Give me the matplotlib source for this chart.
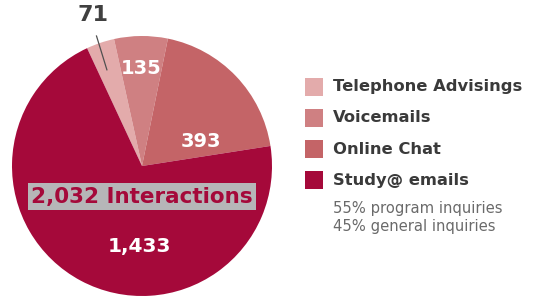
import matplotlib
matplotlib.use("Agg")
import matplotlib.pyplot as plt
from matplotlib.patches import Rectangle

categories = ["Telephone Advisings", "Voicemails", "Online Chat", "Study@ emails"]
values = [71, 135, 393, 1433]
value_labels = ["71", "135", "393", "1,433"]
total_label = "2,032 Interactions"
notes = ["55% program inquiries", "45% general inquiries"]
colors = ["#e3abab", "#cf8082", "#c46467", "#a5093a"]

W, H = 536, 297
fig = plt.figure(figsize=(W / 100, H / 100), dpi=100)
fig.patch.set_facecolor("white")

cx, cy, r = 142, 166, 130
ax = fig.add_axes([(cx - r) / W, (H - cy - r) / H, 2 * r / W, 2 * r / H])
ax.pie(values, colors=colors, startangle=115, counterclock=False,
       radius=1, wedgeprops=dict(linewidth=0))
ax.set_xlim(-1, 1)
ax.set_ylim(-1, 1)
ax.set_aspect("auto")
ax.axis("off")

font = "DejaVu Sans"
# value labels (positions in pie units)
ax.text(-0.38, 1.16, value_labels[0], color="#404040", fontsize=16, fontweight="bold",
        ha="center", va="center", family=font, clip_on=False)
ax.plot([-0.35, -0.27], [1.00, 0.74], color="#505050", lw=0.9, clip_on=False)
ax.text(-0.01, 0.75, value_labels[1], color="white", fontsize=14, fontweight="bold",
        ha="center", va="center", family=font)
ax.text(0.45, 0.19, value_labels[2], color="white", fontsize=14, fontweight="bold",
        ha="center", va="center", family=font)
ax.text(-0.02, -0.62, value_labels[3], color="white", fontsize=14.5, fontweight="bold",
        ha="center", va="center", family=font)
ax.text(0.0, -0.235, total_label, color="#a5093a", fontsize=15.5, fontweight="bold",
        ha="center", va="center", family=font,
        bbox=dict(boxstyle="square,pad=0.15", facecolor="#b6b6b8", edgecolor="none"))

# legend
rows_y = [87, 118, 149, 180]
for c, name, yy in zip(colors, categories, rows_y):
    fig.add_artist(Rectangle(((305) / W, (H - yy - 9) / H), 18 / W, 18 / H,
                             transform=fig.transFigure, facecolor=c, edgecolor="none"))
    fig.text(333 / W, (H - yy) / H, name, color="#3a3a3a", fontsize=11.8,
             fontweight="bold", ha="left", va="center", family=font)
for t, yy in zip(notes, [208, 227]):
    fig.text(333 / W, (H - yy) / H, t, color="#6a6a6a", fontsize=10.6,
             ha="left", va="center", family=font)

fig.savefig("out.png", dpi=100, facecolor="white")
